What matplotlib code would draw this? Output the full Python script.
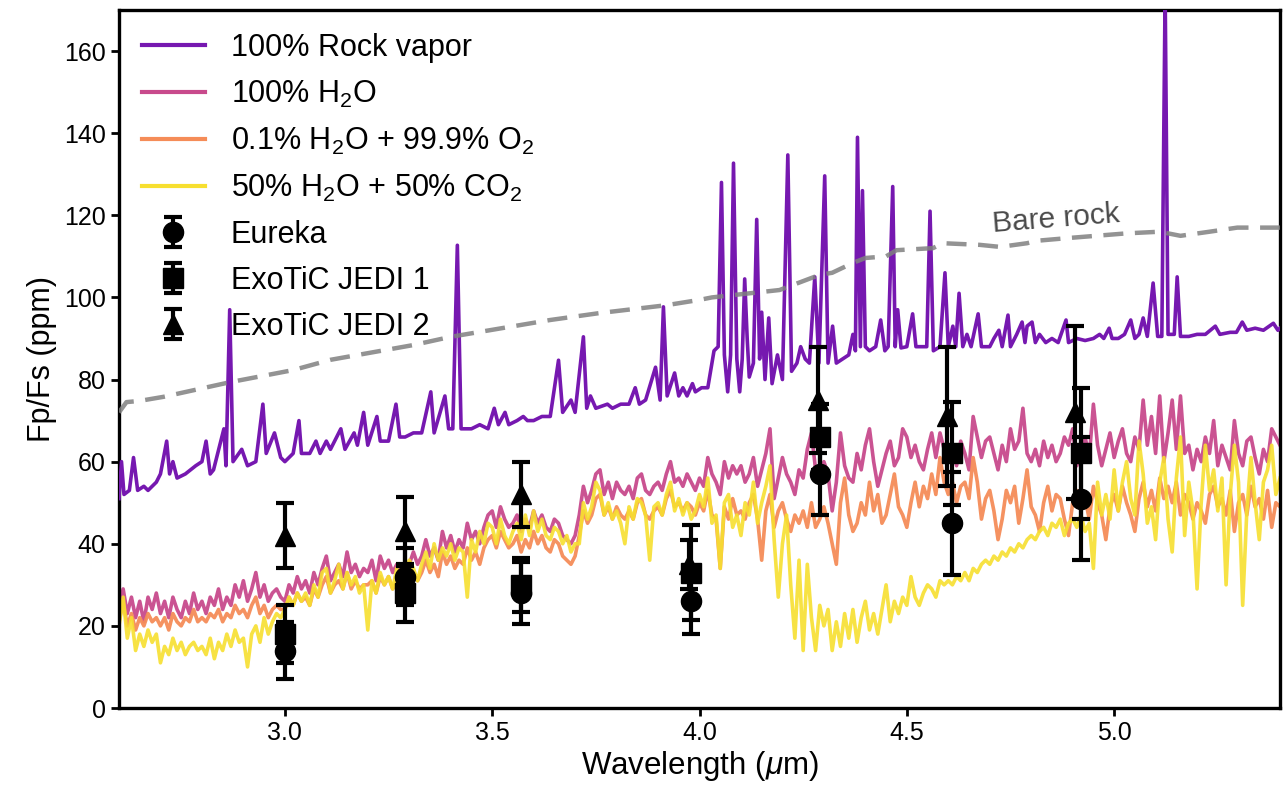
import numpy as np
import matplotlib
matplotlib.use("Agg")
import matplotlib.pyplot as plt

# ---------------- data ----------------
grid_start, grid_step = 2.60, 0.01

h2o_fp = [
    24, 29, 23, 27, 22, 26, 21, 27, 24, 28,
    23, 26, 22, 27, 24, 22, 26, 23, 28, 24,
    26, 23, 27, 25, 29, 24, 27, 25, 30, 27,
    31, 26, 29, 33, 27, 30, 26, 28, 29, 27,
    26, 30, 28, 32, 29, 31, 28, 33, 30, 34,
    37, 31, 33, 35, 32, 38, 33, 35, 32, 34,
    33, 36, 31, 37, 34, 36, 33, 35, 33, 34,
    35, 38, 35, 37, 41, 37, 39, 36, 43, 39,
    42, 38, 41, 39, 45, 41, 43, 40, 44, 47,
    48, 44, 49, 46, 44, 45, 47, 43, 46, 44,
    48, 45, 47, 44, 43, 46, 45, 42, 41, 40,
    42, 47, 54, 50, 53, 57, 58, 52, 55, 51,
    55, 53, 52, 54, 51, 56, 57, 53, 52, 54,
    55, 53, 57, 60, 55, 56, 54, 57, 55, 53,
    56, 54, 61, 57, 55, 52, 60, 56, 59, 57,
    59, 55, 57, 61, 54, 58, 62, 68, 51, 56,
    61, 57, 55, 52, 58, 56, 63, 67, 58, 55,
    60, 57, 48, 55, 67, 59, 56, 55, 62, 58,
    64, 68, 60, 54, 58, 62, 65, 59, 61, 68,
    66, 61, 64, 60, 58, 63, 67, 61, 67, 63,
    60, 64, 59, 65, 62, 58, 71, 66, 61, 65,
    66, 62, 58, 64, 60, 68, 63, 65, 73, 62,
    60, 63, 59, 65, 61, 64, 60, 62, 66, 64,
    68, 59, 63, 66, 61, 74, 64, 59, 63, 67,
    61, 65, 68, 62, 60, 66, 63, 75, 64, 71,
    62, 76, 60, 67, 75, 63, 76, 62, 64, 58,
    63, 60, 66, 62, 70, 59, 64, 61, 58, 70,
    62, 59, 65, 66, 61, 57, 63, 60, 68, 66,
    64,
]

o2_fp = [
    21, 26, 20, 23, 19, 22, 20, 23, 21, 22,
    20, 22, 19, 23, 21, 20, 22, 21, 24, 21,
    22, 21, 23, 22, 24, 21, 23, 22, 25, 23,
    24, 22, 25, 27, 23, 25, 22, 24, 25, 24,
    24, 27, 25, 28, 26, 27, 25, 29, 27, 30,
    32, 28, 30, 31, 29, 33, 29, 31, 29, 30,
    30, 31, 28, 32, 30, 32, 29, 31, 29, 30,
    31, 33, 31, 33, 36, 33, 35, 32, 38, 35,
    37, 34, 36, 35, 39, 36, 38, 35, 39, 41,
    42, 39, 43, 41, 39, 40, 42, 38, 41, 39,
    43, 40, 42, 39, 38, 41, 40, 37, 36, 35,
    37, 42, 48, 45, 47, 51, 52, 47, 49, 46,
    49, 47, 46, 48, 46, 50, 51, 47, 46, 48,
    49, 47, 51, 53, 49, 50, 48, 50, 49, 47,
    50, 48, 53, 47, 46, 34, 49, 46, 51, 47,
    48, 46, 50, 52, 46, 36, 48, 52, 44, 48,
    50, 46, 43, 47, 45, 48, 44, 50, 44, 46,
    49, 45, 40, 35, 50, 56, 47, 43, 45, 50,
    47, 55, 48, 52, 45, 47, 52, 57, 49, 47,
    44, 50, 55, 49, 54, 51, 57, 52, 61, 55,
    52, 55, 50, 54, 55, 51, 61, 55, 46, 51,
    53, 48, 41, 46, 53, 50, 54, 45, 51, 58,
    49, 47, 43, 50, 54, 48, 52, 51, 46, 42,
    50, 53, 48, 51, 46, 54, 50, 47, 41, 49,
    52, 48, 54, 50, 47, 43, 51, 55, 49, 53,
    48, 56, 51, 54, 50, 55, 47, 52, 50, 46,
    50, 48, 45, 52, 54, 49, 51, 47, 53, 43,
    50, 52, 47, 54, 49, 51, 46, 53, 44, 50,
    49,
]

co2_fp = [
    20, 27, 17, 22, 14, 18, 15, 19, 16, 18,
    11, 15, 13, 17, 14, 16, 13, 15, 16, 14,
    15, 13, 17, 12, 16, 14, 18, 15, 19, 16,
    17, 10, 18, 20, 16, 22, 18, 21, 23, 22,
    24, 27, 25, 28, 26, 28, 25, 30, 27, 33,
    34, 28, 31, 35, 29, 33, 30, 32, 28, 30,
    19, 31, 28, 33, 30, 32, 29, 34, 30, 33,
    36, 34, 31, 35, 38, 34, 40, 36, 39, 37,
    40, 36, 39, 38, 27, 41, 38, 43, 40, 45,
    44, 40, 46, 42, 40, 43, 45, 41, 47, 42,
    48, 43, 46, 42, 41, 44, 43, 40, 42, 38,
    40, 40, 50, 46, 49, 55, 53, 47, 50, 46,
    48, 45, 40, 49, 46, 51, 50, 47, 36, 49,
    50, 47, 52, 55, 48, 51, 47, 50, 46, 48,
    52, 49, 56, 45, 47, 34, 50, 52, 44, 47,
    42, 50, 47, 55, 45, 50, 54, 59, 41, 27,
    40, 47, 30, 17, 36, 14, 35, 22, 14, 25,
    20, 24, 14, 21, 15, 23, 17, 24, 16, 22,
    26, 19, 23, 18, 24, 30, 21, 26, 23, 27,
    25, 32, 27, 25, 28, 30, 29, 27, 31, 30,
    31, 30, 32, 31, 33, 31, 34, 33, 35, 36,
    35, 37, 36, 38, 37, 39, 38, 40, 39, 41,
    42, 41, 43, 44, 42, 45, 44, 46, 42, 45,
    46, 44, 47, 43, 45, 34, 55, 47, 52, 46,
    58, 48, 55, 60, 51, 47, 65, 57, 45, 49,
    41, 55, 61, 46, 38, 56, 66, 42, 55, 48,
    29, 50, 64, 53, 58, 48, 56, 30, 52, 64,
    55, 25, 48, 61, 50, 41, 55, 58, 64, 52,
    56,
]

rock_wl = [
    2.600, 2.606, 2.612, 2.625, 2.635, 2.645, 2.660, 2.670, 2.690, 2.700,
    2.715, 2.722, 2.730, 2.740, 2.760, 2.785, 2.800, 2.810, 2.820, 2.828,
    2.853, 2.858, 2.867, 2.875, 2.896, 2.910, 2.930, 2.947, 2.955, 2.975,
    2.990, 3.000, 3.020, 3.034, 3.040, 3.060, 3.075, 3.085, 3.100, 3.110,
    3.135, 3.145, 3.167, 3.175, 3.190, 3.200, 3.222, 3.230, 3.250, 3.268,
    3.277, 3.290, 3.310, 3.330, 3.352, 3.360, 3.386, 3.395, 3.405, 3.416,
    3.425, 3.450, 3.470, 3.490, 3.505, 3.515, 3.531, 3.540, 3.560, 3.575,
    3.585, 3.600, 3.620, 3.640, 3.660, 3.670, 3.690, 3.700, 3.720, 3.728,
    3.737, 3.750, 3.778, 3.790, 3.810, 3.830, 3.845, 3.855, 3.870, 3.894,
    3.905, 3.913, 3.922, 3.940, 3.950, 3.960, 3.970, 3.983, 3.990, 4.005,
    4.020, 4.035, 4.045, 4.053, 4.060, 4.068, 4.075, 4.082, 4.090, 4.097,
    4.103, 4.109, 4.115, 4.120, 4.130, 4.138, 4.145, 4.150, 4.158, 4.167,
    4.175, 4.188, 4.200, 4.213, 4.222, 4.235, 4.244, 4.255, 4.265, 4.278,
    4.288, 4.302, 4.310, 4.321, 4.330, 4.345, 4.360, 4.370, 4.376, 4.381,
    4.388, 4.393, 4.400, 4.410, 4.425, 4.437, 4.447, 4.455, 4.466, 4.472,
    4.478, 4.486, 4.500, 4.514, 4.522, 4.535, 4.548, 4.556, 4.564, 4.580,
    4.592, 4.600, 4.611, 4.618, 4.626, 4.635, 4.645, 4.655, 4.672, 4.680,
    4.700, 4.710, 4.722, 4.730, 4.744, 4.750, 4.765, 4.778, 4.785, 4.790,
    4.802, 4.810, 4.820, 4.835, 4.850, 4.865, 4.884, 4.890, 4.910, 4.930,
    4.950, 4.965, 4.975, 4.988, 4.995, 5.010, 5.025, 5.040, 5.050, 5.060,
    5.070, 5.080, 5.094, 5.105, 5.115, 5.123, 5.130, 5.145, 5.152, 5.160,
    5.180, 5.200, 5.220, 5.244, 5.255, 5.280, 5.295, 5.309, 5.320, 5.340,
    5.360, 5.384, 5.395, 5.400,
]
rock_fp = [
    51, 60, 52, 53, 61, 53, 54, 53, 55, 57,
    65, 57, 60, 56, 57, 59, 60, 65, 57, 58,
    68, 59, 97, 60, 63, 59, 60, 74, 62, 67,
    61, 60, 62, 70, 62, 62, 65, 62, 65, 63,
    68, 63, 67, 64, 72, 64, 71, 65, 65, 74,
    66, 66, 67, 67, 77, 67, 76, 68, 68, 112.7,
    68, 68, 69, 68, 73, 69, 72, 69, 70, 71,
    70, 70, 71, 71, 84.7, 72, 75, 72, 90.4, 73,
    76, 73, 74, 73, 74, 74, 78, 74, 75, 83,
    75, 97.7, 76, 81.6, 76, 78, 76, 79, 77, 78,
    78, 87, 88, 128, 86, 77, 86, 132.7, 85, 77,
    85, 104.5, 90, 80.6, 84, 119, 85, 96.4, 80, 95,
    79, 86, 80, 134.7, 82, 84, 88, 85, 84, 105,
    84, 129.6, 84, 93, 84, 85, 86, 91, 87, 139,
    88, 126, 88, 87, 88, 94.5, 87, 88, 127, 88,
    97, 87.7, 88, 96, 88, 88, 88, 121, 87, 88,
    106, 88, 93, 88, 101, 88, 91, 88, 96, 88,
    88, 90, 92, 88, 95.7, 88, 91, 94, 89, 93,
    94, 89, 91, 89, 90, 89, 94.5, 89, 90, 89.5,
    90, 91, 90, 92.5, 90, 90, 91, 94.5, 90, 91,
    95, 90.5, 103.5, 90.5, 90.5, 175, 91, 91, 105, 90.5,
    90.5, 91, 91, 93, 91, 91.5, 91.5, 94, 92, 92.5,
    92, 93.7, 92, 92.5,
]

bare_wl = [2.600, 2.618, 2.650, 2.708, 2.870, 3.020, 3.110, 3.310, 3.400,
           3.640, 3.760, 3.920, 4.000, 4.030, 4.193, 4.290, 4.320, 4.370,
           4.400, 4.450, 4.475, 4.563, 4.587, 4.676, 4.725, 4.790, 4.814,
           4.894, 5.030, 5.110, 5.160, 5.230, 5.297, 5.384, 5.400]
bare_fp = [72.0, 74.5, 74.8, 75.8, 79.4, 82.3, 84.8, 88.4, 90.4,
           94.5, 96.2, 98.1, 99.4, 100.0, 101.8, 105.5, 106.0, 108.4,
           109.6, 110.0, 111.5, 112.0, 113.2, 112.8, 112.3, 113.2, 113.8,
           114.5, 115.6, 116.0, 115.0, 116.0, 117.0, 117.0, 117.0]

obs_wl = [3.00, 3.29, 3.57, 3.98, 4.29, 4.61, 4.92]
obs_wl_jedi2 = [3.00, 3.29, 3.57, 3.975, 4.285, 4.597, 4.906]
eureka_fp = [14, 32, 28, 26, 57, 45, 51]
eureka_err = [7, 7, 7.5, 8, 10, 12.5, 15]
jedi1_fp = [18, 28, 30, 33, 66, 62, 62]
jedi1_err = [7, 7, 6.5, 11.5, 8, 12.5, 16]
jedi2_fp = [42, 43, 52, 35, 75, 71, 72]
jedi2_err = [8, 8.5, 8, 6, 13, 17, 21]

# ---------------- plot ----------------
plt.rcParams['font.family'] = ['Liberation Sans', 'DejaVu Sans']
plt.rcParams['mathtext.fontset'] = 'custom'
plt.rcParams['mathtext.rm'] = 'Liberation Sans'
plt.rcParams['mathtext.it'] = 'Liberation Sans:italic'
fig = plt.figure(figsize=(12.86, 7.94), dpi=100)
ax = fig.add_axes([119/1286, 1 - 708/794, (1280-119)/1286, (708-10)/794])

grid_wl = grid_start + grid_step * np.arange(len(h2o_fp))

c_rock = '#7618b0'
c_h2o = '#c84a8c'
c_o2 = '#f58c58'
c_co2 = '#f7df2f'

ax.plot(rock_wl, rock_fp, color=c_rock, lw=2.6, label='100% Rock vapor', zorder=3)
ax.plot(grid_wl, h2o_fp, color=c_h2o, lw=2.6, alpha=0.95, label='100% H$_2$O', zorder=2)
ax.plot(grid_wl, o2_fp, color=c_o2, lw=2.6, alpha=0.95,
        label='0.1% H$_2$O + 99.9% O$_2$', zorder=2.1)
ax.plot(grid_wl, co2_fp, color=c_co2, lw=2.6, alpha=0.9,
        label='50% H$_2$O + 50% CO$_2$', zorder=2.2)
ax.plot(bare_wl, bare_fp, color='#808080', lw=3.2, ls=(0, (4.5, 2.6)), alpha=0.85, zorder=4)
ax.text(4.86, 119.2, 'Bare rock', fontsize=21.5, color='#4a4a4a', rotation=4.5,
        ha='center', va='center', zorder=5)

ekw = dict(color='black', ecolor='black', elinewidth=3, capsize=6.5, capthick=3,
           markersize=14.5, ls='none', zorder=6)
ax.errorbar(obs_wl, eureka_fp, yerr=eureka_err, fmt='o', label='Eureka', **ekw)
ax.errorbar(obs_wl, jedi1_fp, yerr=jedi1_err, fmt='s', label='ExoTiC JEDI 1', **ekw)
ax.errorbar(obs_wl_jedi2, jedi2_fp, yerr=jedi2_err, fmt='^', label='ExoTiC JEDI 2', **ekw)

ax.set_xlim(2.6, 5.4)
ax.set_ylim(0, 170)
ax.set_xticks([3.0, 3.5, 4.0, 4.5, 5.0])
ax.set_yticks([0, 20, 40, 60, 80, 100, 120, 140, 160])
ax.tick_params(axis='both', labelsize=18, width=2, length=6, direction='out')
for s in ax.spines.values():
    s.set_linewidth(2.4)
ax.set_xlabel('Wavelength ($\\mu$m)', fontsize=22.5, labelpad=3)
ax.set_ylabel('Fp/Fs (ppm)', fontsize=22, labelpad=5)

leg = ax.legend(loc='upper left', frameon=False, fontsize=22, handlelength=2.05,
                handletextpad=0.85, labelspacing=0.52, borderaxespad=0.35)
for line in leg.get_lines():
    line.set_linewidth(3)
    line.set_alpha(1)

fig.savefig('out.png', dpi=100)
